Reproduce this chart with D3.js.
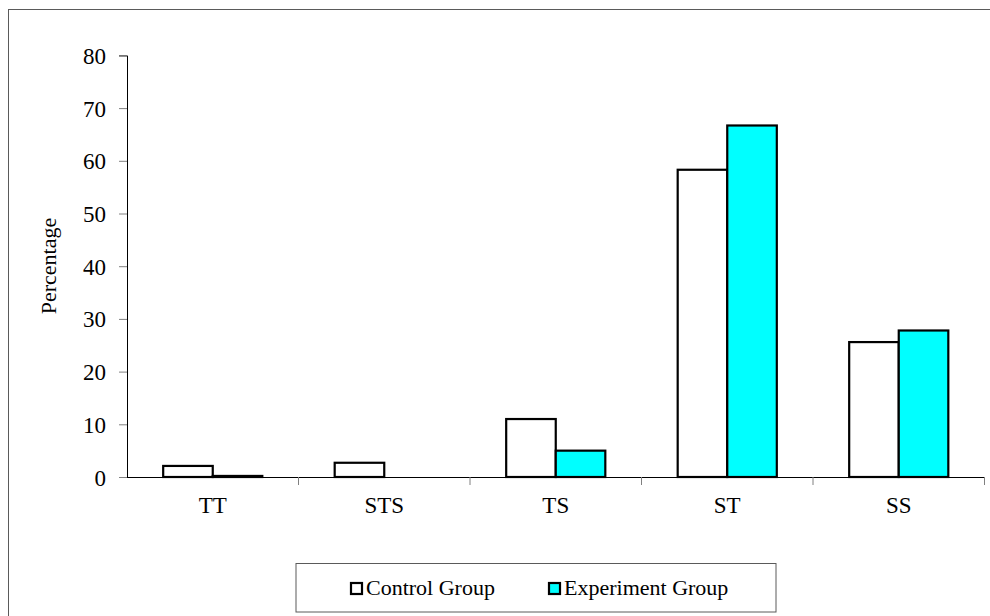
<!doctype html>
<html>
  <head>
    <script src="https://cdn.jsdelivr.net/npm/d3@7/dist/d3.min.js"></script>
    <style>
    body { margin: 0; background: #fff; }
    text { font-family: "Liberation Serif", "Times New Roman", serif; fill: #000; }
    .tick line { stroke: #808080; }
    </style>
  </head>
  <body>
    <svg id="chart" width="990" height="616"></svg>
    <script>
      var categories = ["TT", "STS", "TS", "ST", "SS"];
      var series = ["Control Group", "Experiment Group"];
      var controlValues = [2.1, 2.7, 11.0, 58.3, 25.6];
      var experimentValues = [0.2, 0, 5.0, 66.7, 27.8];
      var yTicks = [0, 10, 20, 30, 40, 50, 60, 70, 80];
      var seriesColors = ["#FFFFFF", "#00FFFF"];

      var svg = d3.select("#chart");

      // outer chart frame (runs off the right and bottom edges)
      svg.append("rect")
        .attr("x", 8.5).attr("y", 9.5)
        .attr("width", 1000).attr("height", 700)
        .style("fill", "none")
        .style("stroke", "#5a5a5a")
        .style("stroke-width", 1);

      var x0 = d3.scaleBand()
        .domain(categories)
        .range([127, 984.5]);

      var x1 = d3.scaleBand()
        .domain(series)
        .range([x0.bandwidth() * 0.211, x0.bandwidth() * 0.789]);

      var y = d3.scaleLinear()
        .domain([0, 80])
        .range([477, 55.4]);

      var rows = categories.map((c, i) => ({
        category: c,
        values: [
          { series: series[0], value: controlValues[i] },
          { series: series[1], value: experimentValues[i] }
        ]
      }));

      var color = d3.scaleOrdinal().domain(series).range(seriesColors);

      // bars
      var groups = svg.selectAll("g.group")
        .data(rows)
        .enter()
        .append("g")
          .attr("class", "group")
          .attr("transform", d => `translate(${x0(d.category)},0)`);

      groups.selectAll("rect")
        .data(d => d.values.filter(v => v.value > 0))
        .enter()
        .append("rect")
          .attr("x", d => x1(d.series))
          .attr("width", x1.bandwidth())
          .attr("y", d => y(d.value))
          .attr("height", d => y(0) - y(d.value))
          .style("fill", d => color(d.series))
          .style("stroke", "#000")
          .style("stroke-width", 2.2);

      // y axis
      var yAxis = svg.append("g")
        .attr("transform", "translate(127,0)")
        .call(d3.axisLeft(y).tickValues(yTicks).tickSize(8).tickPadding(13));
      yAxis.select(".domain").style("stroke", "#000");
      yAxis.selectAll("text").style("font-size", "23px").attr("dy", "0.35em");

      // x axis
      var xAxis = svg.append("g")
        .attr("transform", "translate(0,477)")
        .call(d3.axisBottom(x0).tickSize(0).tickPadding(0));
      xAxis.select(".domain").remove();
      xAxis.selectAll("text").style("font-size", "23px").attr("y", 36).attr("dy", 0);
      svg.append("line")
        .attr("x1", 127).attr("x2", 984.5)
        .attr("y1", 477.5).attr("y2", 477.5)
        .style("stroke", "#000");
      svg.append("g").selectAll("line")
        .data(categories)
        .enter()
        .append("line")
          .attr("x1", d => x0(d) + x0.bandwidth())
          .attr("x2", d => x0(d) + x0.bandwidth())
          .attr("y1", 477).attr("y2", 485)
          .style("stroke", "#808080");

      // y label
      svg.append("text")
        .attr("transform", "translate(56,266) rotate(-90)")
        .style("text-anchor", "middle")
        .style("font-size", "22px")
        .text("Percentage");

      // legend
      var legend = svg.append("g");
      legend.append("rect")
        .attr("x", 296).attr("y", 563.5)
        .attr("width", 480).attr("height", 48.5)
        .style("fill", "#fff")
        .style("stroke", "#5a5a5a");
      var legendX = [350, 548];
      var items = legend.selectAll("g.item")
        .data(series)
        .enter()
        .append("g")
          .attr("class", "item")
          .attr("transform", (d, i) => `translate(${legendX[i]},0)`);
      items.append("rect")
        .attr("x", 1).attr("y", 583)
        .attr("width", 11).attr("height", 11)
        .style("fill", d => color(d))
        .style("stroke", "#000")
        .style("stroke-width", 2.2);
      items.append("text")
        .attr("x", 16).attr("y", 595)
        .style("font-size", "22px")
        .text(d => d);
    </script>
  </body>
</html>
